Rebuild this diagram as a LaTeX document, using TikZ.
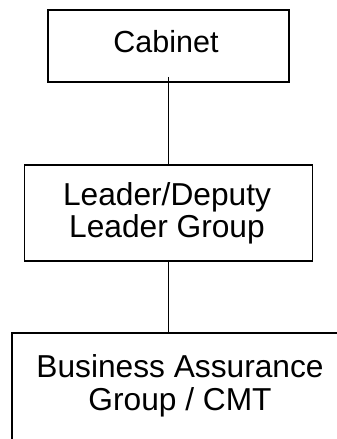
\documentclass[tikz,border=0pt]{standalone}
\usepackage{fontspec}
\setmainfont{Liberation Sans}
\begin{document}
\begin{tikzpicture}[x=1pt,y=-1pt,
  box/.style={draw=black,line width=1.6pt,rectangle,inner sep=0pt},
  lbl/.style={inner sep=0pt,align=center,anchor=base,
    font=\fontsize{31.7}{32.5}\selectfont},
  link/.style={draw=black,line width=1.6pt}]
  \useasboundingbox (0,0) rectangle (337,439);
  \clip (0,0) rectangle (337,439);
  % boxes
  \node[box,minimum width=241pt,minimum height=72pt] (cab) at (168.5,46) {};
  \node[box,minimum width=288pt,minimum height=96pt] (lead) at (168.5,213) {};
  \node[box,minimum width=336pt,minimum height=150pt] (bag) at (180,408) {};
  % labels (anchored at the baseline of their last line)
  \node[lbl,font=\fontsize{30.5}{32.5}\selectfont] (cabt) at (166,52) {Cabinet};
  \node[lbl] (leadt) at (167,237.5) {Leader/Deputy\\Leader Group};
  \node[lbl] (bagt) at (180,410) {Business Assurance\\Group / CMT};
  % connectors
  \draw[link] (cab.south) ++(0,-6) -- (lead.north);
  \draw[link] (lead.south) -- (lead.south |- bag.north);
\end{tikzpicture}
\end{document}
